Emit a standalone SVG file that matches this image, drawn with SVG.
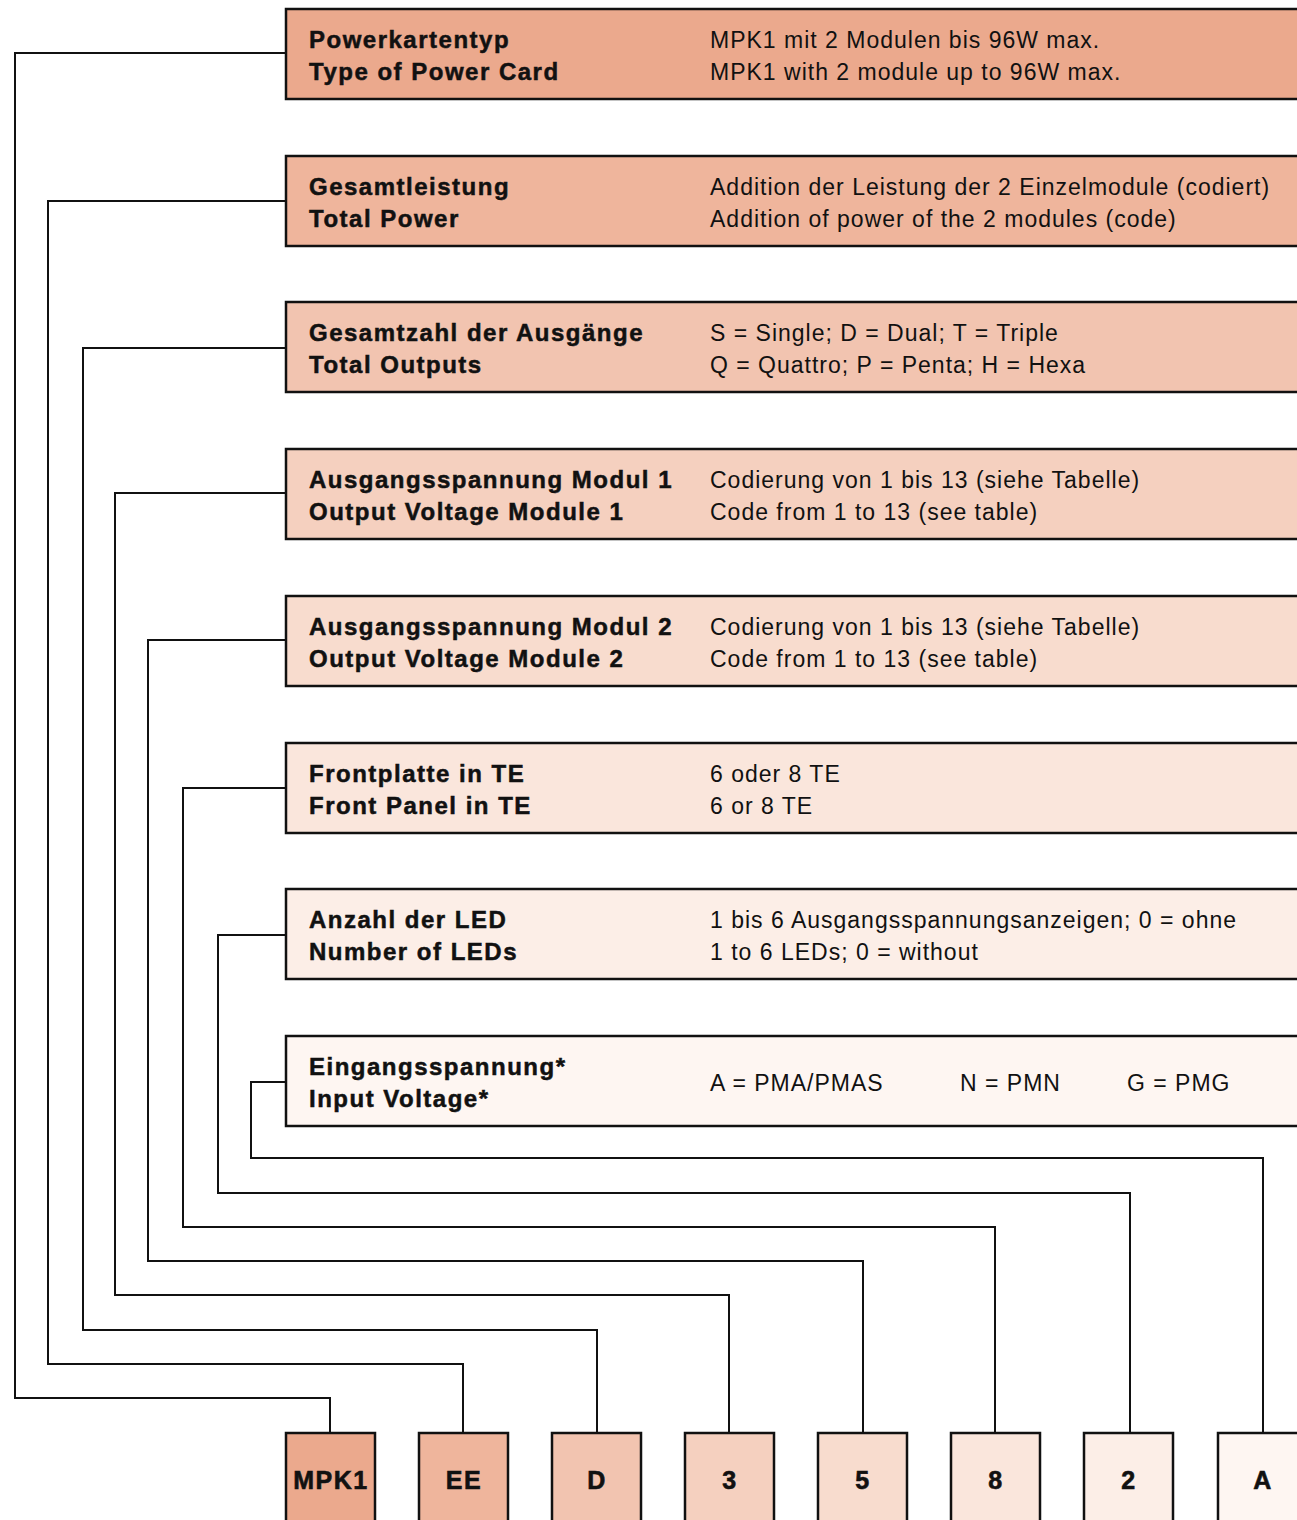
<svg xmlns="http://www.w3.org/2000/svg" width="1297" height="1520" viewBox="0 0 1297 1520">
<style>
.box{stroke:#111;stroke-width:2.5}
.lbl{font-family:"Liberation Sans",Arial,sans-serif;font-weight:bold;font-size:24px;fill:#111;stroke:#111;stroke-width:0.5;letter-spacing:1.5px}
.txt{font-family:"Liberation Sans",Arial,sans-serif;font-size:23px;fill:#111;letter-spacing:1px}
.code{font-family:"Liberation Sans",Arial,sans-serif;font-weight:bold;font-size:25px;fill:#111;stroke:#111;stroke-width:0.6;letter-spacing:1.5px;text-anchor:middle}
.con{fill:none;stroke:#111;stroke-width:2}
</style>
<rect width="1297" height="1520" fill="#fff"/>
<g id="connectors">
<polyline class="con" points="286,53 15,53 15,1398 330,1398 330,1433"/>
<polyline class="con" points="286,201 48,201 48,1364 463,1364 463,1433"/>
<polyline class="con" points="286,348 83,348 83,1330 597,1330 597,1433"/>
<polyline class="con" points="286,493 115,493 115,1295 729,1295 729,1433"/>
<polyline class="con" points="286,640 148,640 148,1261 863,1261 863,1433"/>
<polyline class="con" points="286,788 183,788 183,1227 995,1227 995,1433"/>
<polyline class="con" points="286,935 218,935 218,1193 1130,1193 1130,1433"/>
<polyline class="con" points="286,1082 251,1082 251,1158 1263,1158 1263,1433"/>
</g>
<g id="row1"><rect class="box" x="286" y="9" width="1020" height="90" fill="#EBA98D"/>
<text class="lbl" x="309" y="48">Powerkartentyp</text><text class="lbl" x="309" y="80">Type of Power Card</text>
<text class="txt" x="710" y="48">MPK1 mit 2 Modulen bis 96W max.</text><text class="txt" x="710" y="80">MPK1 with 2 module up to 96W max.</text></g>
<g id="row2"><rect class="box" x="286" y="156" width="1020" height="90" fill="#EFB59C"/>
<text class="lbl" x="309" y="195">Gesamtleistung</text><text class="lbl" x="309" y="227">Total Power</text>
<text class="txt" x="710" y="195">Addition der Leistung der 2 Einzelmodule (codiert)</text><text class="txt" x="710" y="227">Addition of power of the 2 modules (code)</text></g>
<g id="row3"><rect class="box" x="286" y="302" width="1020" height="90" fill="#F2C4B0"/>
<text class="lbl" x="309" y="341">Gesamtzahl der Ausgänge</text><text class="lbl" x="309" y="373">Total Outputs</text>
<text class="txt" x="710" y="341">S = Single; D = Dual; T = Triple</text><text class="txt" x="710" y="373">Q = Quattro; P = Penta; H = Hexa</text></g>
<g id="row4"><rect class="box" x="286" y="449" width="1020" height="90" fill="#F5D0BF"/>
<text class="lbl" x="309" y="488">Ausgangsspannung Modul 1</text><text class="lbl" x="309" y="520">Output Voltage Module 1</text>
<text class="txt" x="710" y="488">Codierung von 1 bis 13 (siehe Tabelle)</text><text class="txt" x="710" y="520">Code from 1 to 13 (see table)</text></g>
<g id="row5"><rect class="box" x="286" y="596" width="1020" height="90" fill="#F8DCCE"/>
<text class="lbl" x="309" y="635">Ausgangsspannung Modul 2</text><text class="lbl" x="309" y="667">Output Voltage Module 2</text>
<text class="txt" x="710" y="635">Codierung von 1 bis 13 (siehe Tabelle)</text><text class="txt" x="710" y="667">Code from 1 to 13 (see table)</text></g>
<g id="row6"><rect class="box" x="286" y="743" width="1020" height="90" fill="#FAE6DC"/>
<text class="lbl" x="309" y="782">Frontplatte in TE</text><text class="lbl" x="309" y="814">Front Panel in TE</text>
<text class="txt" x="710" y="782">6 oder 8 TE</text><text class="txt" x="710" y="814">6 or 8 TE</text></g>
<g id="row7"><rect class="box" x="286" y="889" width="1020" height="90" fill="#FCEEE7"/>
<text class="lbl" x="309" y="928">Anzahl der LED</text><text class="lbl" x="309" y="960">Number of LEDs</text>
<text class="txt" x="710" y="928">1 bis 6 Ausgangsspannungsanzeigen; 0 = ohne</text><text class="txt" x="710" y="960">1 to 6 LEDs; 0 = without</text></g>
<g id="row8"><rect class="box" x="286" y="1036" width="1020" height="90" fill="#FEF6F2"/>
<text class="lbl" x="309" y="1075">Eingangsspannung*</text><text class="lbl" x="309" y="1107">Input Voltage*</text>
<text class="txt" x="710" y="1091">A = PMA/PMAS</text><text class="txt" x="960" y="1091">N = PMN</text><text class="txt" x="1127" y="1091">G = PMG</text></g>
<g id="code1"><rect class="box" x="286" y="1433" width="89" height="100" fill="#EBA98D"/><text class="code" x="331" y="1489">MPK1</text></g>
<g id="code2"><rect class="box" x="419" y="1433" width="89" height="100" fill="#EFB59C"/><text class="code" x="464" y="1489">EE</text></g>
<g id="code3"><rect class="box" x="552" y="1433" width="89" height="100" fill="#F2C4B0"/><text class="code" x="597" y="1489">D</text></g>
<g id="code4"><rect class="box" x="685" y="1433" width="89" height="100" fill="#F5D0BF"/><text class="code" x="730" y="1489">3</text></g>
<g id="code5"><rect class="box" x="818" y="1433" width="89" height="100" fill="#F8DCCE"/><text class="code" x="863" y="1489">5</text></g>
<g id="code6"><rect class="box" x="951" y="1433" width="89" height="100" fill="#FAE6DC"/><text class="code" x="996" y="1489">8</text></g>
<g id="code7"><rect class="box" x="1084" y="1433" width="89" height="100" fill="#FCEEE7"/><text class="code" x="1129" y="1489">2</text></g>
<g id="code8"><rect class="box" x="1218" y="1433" width="100" height="100" fill="#FEF6F2"/><text class="code" x="1263" y="1489">A</text></g>
</svg>
